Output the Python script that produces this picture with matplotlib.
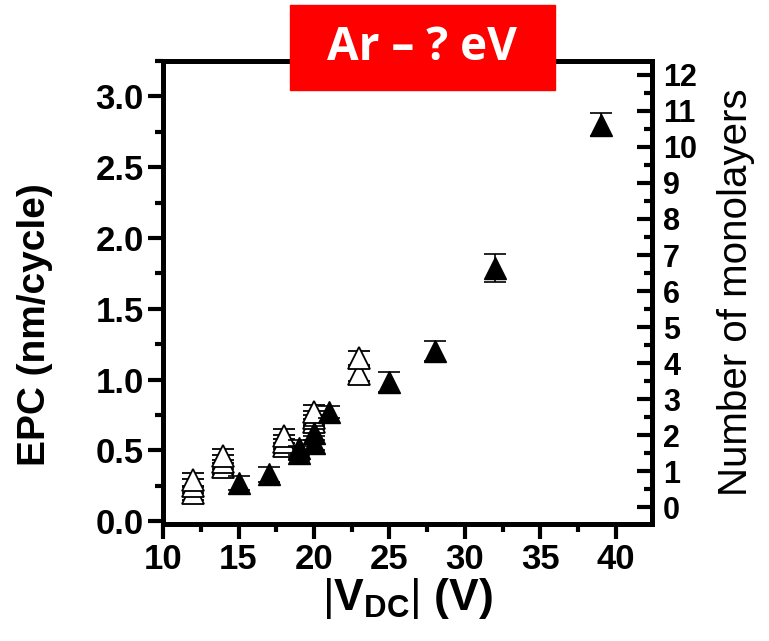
import numpy as np
import matplotlib
matplotlib.use('Agg')
import matplotlib.pyplot as plt
from matplotlib.patches import Rectangle
from matplotlib.ticker import MultipleLocator, FormatStrFormatter

plt.rcParams['font.family'] = ['Liberation Sans', 'DejaVu Sans']
plt.rcParams['mathtext.fontset'] = 'custom'
plt.rcParams['mathtext.rm'] = 'Liberation Sans'
plt.rcParams['mathtext.bf'] = 'Liberation Sans:bold'

# open triangles (several overlapping runs)
open_x = [12, 12, 12, 14, 14, 14, 18, 18, 18, 20, 20, 20, 23, 23]
open_y = [0.20, 0.25, 0.29, 0.38, 0.42, 0.46, 0.53, 0.56, 0.60, 0.70, 0.73, 0.77, 1.04, 1.15]
open_err = [0.05] * len(open_x)

# filled triangles
fill_x = [15, 17, 19, 19, 20, 20, 21, 25, 28, 32, 39]
fill_y = [0.27, 0.33, 0.48, 0.52, 0.55, 0.62, 0.77, 0.98, 1.20, 1.79, 2.80]
fill_err = [0.05, 0.05, 0.05, 0.05, 0.05, 0.05, 0.04, 0.07, 0.07, 0.10, 0.08]

fig = plt.figure(figsize=(7.69, 6.41), dpi=100)
ax = fig.add_axes([0.212, 0.1825, 0.636, 0.7225])

ax.errorbar(open_x, open_y, yerr=open_err, fmt='^', ms=15.5, mfc='white', mec='black',
            mew=1.3, ecolor='black', elinewidth=1.2, capsize=8, capthick=1.2, zorder=3)
ax.errorbar(fill_x, fill_y, yerr=fill_err, fmt='^', ms=15.5, mfc='black', mec='black',
            ecolor='black', elinewidth=1.2, capsize=8, capthick=1.2, zorder=4)

ax.set_xlim(10, 42.4)
ax.set_ylim(-0.02, 3.25)
ax.xaxis.set_major_locator(MultipleLocator(5))
ax.xaxis.set_minor_locator(MultipleLocator(2.5))
ax.yaxis.set_major_locator(MultipleLocator(0.5))
ax.yaxis.set_minor_locator(MultipleLocator(0.25))
ax.yaxis.set_major_formatter(FormatStrFormatter('%.1f'))

for s in ax.spines.values():
    s.set_linewidth(3.5)
ax.tick_params(axis='both', which='major', direction='out', length=11, width=3,
               labelsize=25, pad=3, top=False, right=False)
ax.tick_params(axis='both', which='minor', direction='out', length=6, width=3,
               top=False, right=False)
for lab in ax.get_xticklabels() + ax.get_yticklabels():
    lab.set_fontweight('bold')

ax.set_ylabel('EPC (nm/cycle)', fontsize=28, fontweight='bold')
ax.yaxis.set_label_coords(-0.225, 0.43)
ax.set_xlabel(r'$\mathrm{|}\mathbf{V}_{\mathbf{DC}}\mathrm{|}$ (V)', fontsize=32,
              fontweight='bold', labelpad=0)

ax2 = ax.twinx()
ax2.set_ylim(-0.47, 12.39)
ax2.yaxis.set_major_locator(MultipleLocator(1))
ax2.yaxis.set_minor_locator(MultipleLocator(0.5))
ax2.tick_params(axis='y', which='major', direction='in', length=11, width=3,
                labelsize=22, pad=8)
ax2.tick_params(axis='y', which='minor', direction='in', length=6, width=3)
for lab in ax2.get_yticklabels():
    lab.set_fontweight('bold')
for s in ax2.spines.values():
    s.set_linewidth(3.5)
ax2.set_ylabel('Number of monolayers', fontsize=29, labelpad=14)

fig.patches.append(Rectangle((290 / 769, 1 - 90 / 641), 265 / 769, 85 / 641,
                             transform=fig.transFigure, color='#ff0000', zorder=5))
fig.text(422 / 769, 1 - 48 / 641, 'Ar – ? eV', color='white', fontsize=33,
         fontweight='bold', family=['Open Sans', 'DejaVu Sans'],
         ha='center', va='center', zorder=6)

fig.savefig('out.png', dpi=100)
